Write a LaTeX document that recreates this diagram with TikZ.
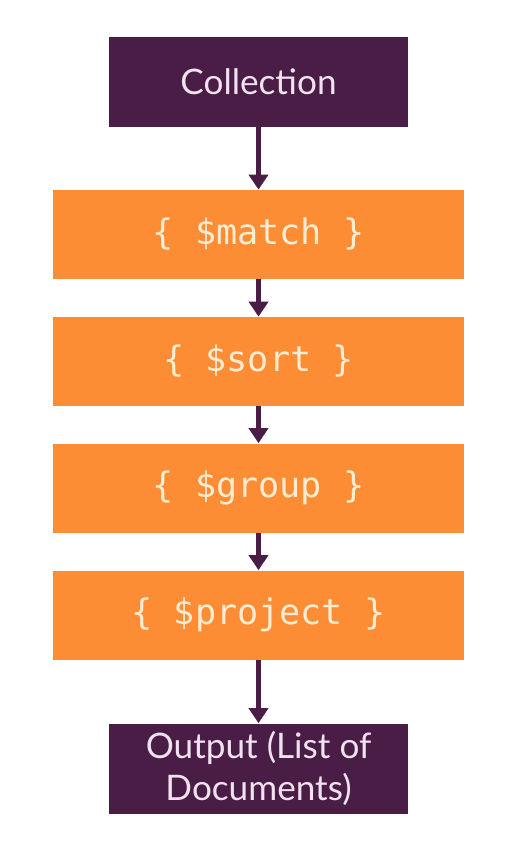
\documentclass[tikz,border=0pt]{standalone}
\usepackage{fontspec}
\setmainfont{Lato}
\setmonofont{DejaVu Sans Mono}
\usetikzlibrary{arrows.meta}
\definecolor{plum}{RGB}{74,29,71}
\definecolor{tangerine}{RGB}{253,141,52}
\definecolor{plumtext}{RGB}{242,226,240}
\definecolor{tangtext}{RGB}{255,236,210}
\tikzset{
	endbox/.style={fill=plum, text=plumtext, minimum width=5.98cm, minimum height=1.8cm, align=center, font=\fontsize{20}{24}\selectfont, inner sep=0pt},
	stagebox/.style={fill=tangerine, text=tangtext, minimum width=8.22cm, minimum height=1.78cm, font=\ttfamily\fontsize{20}{23}\selectfont, inner sep=0pt},
	flow/.style={draw=plum, line width=2.6pt, -{Triangle[width=0.38cm,length=0.3cm]}}
}
\begin{document}
\begin{tikzpicture}
			\useasboundingbox (0,0) rectangle (10.4,-16.9);
			\node[endbox] (coll) at (5.17,-1.64) {Collection};
			\node[stagebox] (match) at (5.17,-4.69) {\{ \$match \}};
			\node[stagebox] (sort) at (5.17,-7.23) {\{ \$sort \}};
			\node[stagebox] (group) at (5.17,-9.76) {\{ \$group \}};
			\node[stagebox] (project) at (5.17,-12.3) {\{ \$project \}};
			\node[endbox] (out) at (5.17,-15.37) {Output (List of\\Documents)};
			\draw[flow] (coll) -- (match);
			\draw[flow] (match) -- (sort);
			\draw[flow] (sort) -- (group);
			\draw[flow] (group) -- (project);
			\draw[flow] (project) -- (out);
			\end{tikzpicture}
\end{document}
